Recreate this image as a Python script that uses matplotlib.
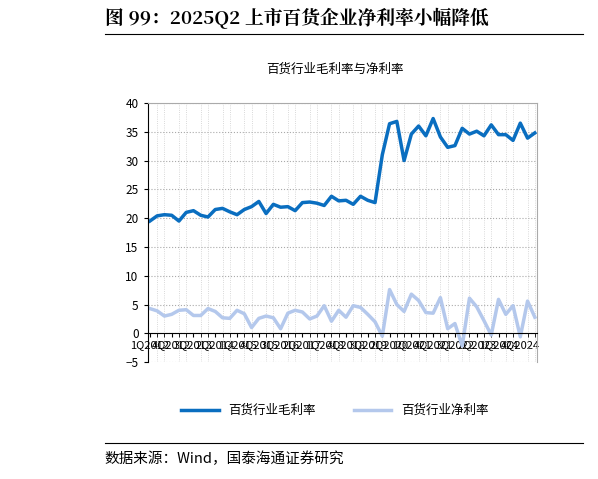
import matplotlib
matplotlib.use("Agg")
import matplotlib.pyplot as plt
import numpy as np

plt.rcParams['font.family'] = ['Noto Sans CJK SC', 'DejaVu Sans']

quarters = [f"{q}Q{y}" for y in range(2012, 2026) for q in range(1, 5)][:54]
gross = [19.5, 20.4, 20.6, 20.5, 19.5, 21.0, 21.3, 20.5, 20.2, 21.5, 21.7, 21.1,
         20.6, 21.5, 22.0, 22.9, 20.8, 22.4, 21.9, 22.0, 21.3, 22.7, 22.8, 22.6,
         22.2, 23.8, 23.0, 23.1, 22.4, 23.8, 23.1, 22.7, 31.0, 36.4, 36.8, 30.0,
         34.6, 36.0, 34.3, 37.3, 34.1, 32.3, 32.6, 35.6, 34.6, 35.1, 34.3, 36.2,
         34.5, 34.5, 33.5, 36.5, 33.9, 34.8]
net = [4.3, 3.9, 3.0, 3.3, 4.0, 4.1, 3.1, 3.1, 4.3, 3.8, 2.7, 2.6,
       4.0, 3.4, 1.0, 2.6, 3.0, 2.7, 0.8, 3.5, 4.0, 3.7, 2.5, 3.0,
       4.8, 2.1, 4.0, 2.8, 4.8, 4.5, 3.3, 2.0, -0.5, 7.6, 5.0, 3.8,
       6.8, 5.7, 3.6, 3.5, 6.2, 0.8, 1.7, -2.2, 6.1, 4.6, 2.2, -0.3,
       5.9, 3.3, 4.8, -0.6, 5.6, 2.8]

fig = plt.figure(figsize=(5.98, 4.79), dpi=100)
fig.text(0.175, 0.962, "图 99：2025Q2 上市百货企业净利率小幅降低", fontsize=13.5,
         fontweight='bold', family=['Noto Serif CJK SC', 'Noto Sans CJK SC', 'DejaVu Serif'],
         va='center', ha='left')
fig.add_artist(plt.Line2D([0.175, 0.975], [0.93, 0.93], color='black', lw=0.8))
fig.text(0.175, 0.042, "数据来源：Wind，国泰海通证券研究", fontsize=10.5, va='center', ha='left')
fig.add_artist(plt.Line2D([0.175, 0.975], [0.075, 0.075], color='black', lw=0.8))
fig.text(0.56, 0.855, "百货行业毛利率与净利率", fontsize=9, ha='center', va='center')

ax = fig.add_axes([0.247, 0.244, 0.651, 0.541])
x = np.arange(len(quarters))
ax.plot(x, gross, color='#0A6EC0', lw=2.5, label='百货行业毛利率')
ax.plot(x, net, color='#B4C8EC', lw=2.5, label='百货行业净利率')
ax.set_xlim(-0.3, len(x) - 0.7)
ax.set_ylim(-5, 40)
ax.set_yticks(range(-5, 41, 5))
ax.set_xticks(x[::3])
ax.set_xticklabels(quarters[::3])
ax.set_xticks(x, minor=True)
ax.tick_params(axis='y', labelsize=8.5, length=3)
ax.tick_params(axis='x', which='both', length=3, pad=2, labelsize=8)
plt.setp(ax.get_xticklabels(), rotation=90, va='top', ha='center')
ax.grid(True, which='major', axis='y', ls=':', color='#aaaaaa', lw=0.8)
ax.grid(True, which='minor', axis='x', ls=':', color='#cccccc', lw=0.6)
for s in ['top', 'right']:
    ax.spines[s].set_color('#aaaaaa')
ax.spines['bottom'].set_position(('data', 0))
h, l = ax.get_legend_handles_labels()
fig.legend(h, l, loc='center', bbox_to_anchor=(0.56, 0.143), ncol=2, frameon=False,
           fontsize=9, handlelength=3, columnspacing=3)
fig.savefig("out.png", dpi=100)
